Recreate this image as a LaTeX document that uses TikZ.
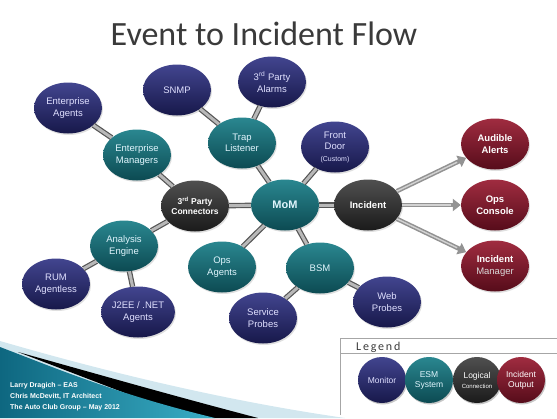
\documentclass[tikz,border=0pt]{standalone}
\usepackage{fontspec}
\setmainfont{Liberation Sans}
\newfontfamily\titlefont{Carlito}
\newfontfamily\legendfont[LetterSpace=15]{Carlito}
\usepackage{tikz}
\usetikzlibrary{shapes,arrows.meta,shadows}

\definecolor{monTop}{HTML}{42458F}
\definecolor{monBot}{HTML}{17184A}
\definecolor{esmTop}{HTML}{2A8790}
\definecolor{esmBot}{HTML}{0C4A52}
\definecolor{logTop}{HTML}{505050}
\definecolor{logBot}{HTML}{1A1A1A}
\definecolor{outTop}{HTML}{A02C40}
\definecolor{outBot}{HTML}{560C1A}
\definecolor{linkDark}{HTML}{555555}
\definecolor{linkLight}{HTML}{B8B8B8}
\definecolor{titleGray}{HTML}{3A3A3A}
\definecolor{footDark}{HTML}{0E6780}
\definecolor{footLight}{HTML}{3AAEC6}
\definecolor{footBand}{HTML}{D2E7EF}

\begin{document}
\begin{tikzpicture}[x=1pt,y=-1pt,
    bubble/.style={ellipse, minimum width=68pt, minimum height=51pt, inner sep=0pt, align=center,
        font=\fontsize{9.5}{11.5}\selectfont,
        drop shadow={opacity=0.25, shadow xshift=1pt, shadow yshift=-1.5pt}},
    monitor/.style={bubble, top color=monTop, bottom color=monBot, text=white!88!blue},
    esm/.style={bubble, top color=esmTop, bottom color=esmBot, text=white!88!cyan},
    logic/.style={bubble, top color=logTop, bottom color=logBot, text=white,
        font=\bfseries\fontsize{9.5}{11.5}\selectfont},
    output/.style={bubble, top color=outTop, bottom color=outBot, text=white,
        font=\bfseries\fontsize{9.5}{11.5}\selectfont},
    keybox/.style={bubble, minimum width=48pt, minimum height=46pt, font=\fontsize{8.5}{10}\selectfont},
    link/.style={draw=linkDark, line width=1.2pt, double=linkLight, double distance=3pt},
    flow/.style={draw=gray!85, line width=4.5pt, -{Triangle[length=8pt,width=12pt]}},
    flowhi/.style={draw=gray!35, line width=1.4pt, shorten >=10pt}
]
    \useasboundingbox (0,0) rectangle (557,418);

    % Title
    \node[anchor=base, text=titleGray, font=\titlefont\fontsize{34}{40}\selectfont] (title) at (264,45) {Event to Incident Flow};

    % Footer swoosh
    \fill[footBand] (0,341) .. controls (100,370) and (220,400) .. (345,418) -- (0,418) -- cycle;
    \fill[black] (18,352) .. controls (90,372) and (170,395) .. (258,418) -- (190,418) -- cycle;
    \shade[left color=footDark, right color=footLight] (0,347) .. controls (60,370) and (120,395) .. (215,418) -- (0,418) -- cycle;
    \node[anchor=north west, inner sep=0pt, align=left, text=white, font=\bfseries\fontsize{7}{11}\selectfont] (credits) at (10,382)
        {Larry Dragich -- EAS\\Chris McDevitt, IT Architect\\The Auto Club Group -- May 2012};

    % Monitors
    \node[monitor] (entag) at (68,108) {Enterprise\\Agents};
    \node[monitor] (snmp) at (177,90) {SNMP};
    \node[monitor] (alarms) at (272,82) {3\textsuperscript{rd} Party\\Alarms};
    \node[monitor] (front) at (335,147) {Front\\Door\\{\fontsize{7}{8}\selectfont(Custom)}};
    \node[monitor] (rum) at (56,284) {RUM\\Agentless};
    \node[monitor] (j2ee) at (138,312) {J2EE / .NET\\Agents};
    \node[monitor] (svc) at (263,318) {Service\\Probes};
    \node[monitor] (web) at (387,302) {Web\\Probes};

    % ESM systems
    \node[esm] (entmgr) at (137,155) {Enterprise\\Managers};
    \node[esm] (trap) at (242,143) {Trap\\Listener};
    \node[esm] (mom) at (285,205) {\bfseries\fontsize{11}{12}\selectfont MoM};
    \node[esm] (analysis) at (124,246) {Analysis\\Engine};
    \node[esm] (opsag) at (222,267) {Ops\\Agents};
    \node[esm] (bsm) at (320,268) {BSM};

    % Logical connections
    \node[logic, font=\bfseries\fontsize{8.5}{10.5}\selectfont] (conn) at (195,206) {3\textsuperscript{rd} Party\\Connectors};
    \node[logic] (inc) at (368,205) {Incident};

    % Incident outputs
    \node[output] (audible) at (495,144) {Audible\\Alerts};
    \node[output] (opscon) at (495,205) {Ops\\Console};
    \node[output] (incmgr) at (495,266) {Incident\\{\mdseries\color{white!85!black}Manager}};

    % Connectors
    \draw[link] (entag) -- (entmgr);
    \draw[link] (entmgr) -- (conn);
    \draw[link] (snmp) -- (trap);
    \draw[link] (alarms) -- (trap);
    \draw[link] (trap) -- (mom);
    \draw[link] (front) -- (mom);
    \draw[link] (conn) -- (mom);
    \draw[link] (mom) -- (inc);
    \draw[link] (analysis) -- (conn);
    \draw[link] (analysis) -- (rum);
    \draw[link] (analysis) -- (j2ee);
    \draw[link] (mom) -- (opsag);
    \draw[link] (mom) -- (bsm);
    \draw[link] (bsm) -- (svc);
    \draw[link] (bsm) -- (web);

    % Output arrows
    \foreach \dest in {audible,opscon,incmgr} {
        \draw[flow] (inc) -- (\dest);
        \draw[flowhi] (inc) -- (\dest);
    }

    % Legend
    \draw[gray!70, line width=1pt] (340,415) -- (340,338) -- (557,338);
    \draw[gray!70, line width=0.8pt] (340,353) -- (557,353);
    \node[anchor=base west, inner sep=0pt, text=titleGray, font=\legendfont\fontsize{12}{14}\selectfont] (legend) at (356,350) {Legend};
    \node[monitor, keybox] (keymon) at (382,380) {Monitor};
    \node[esm, keybox] (keyesm) at (429,380) {ESM\\System};
    \node[logic, keybox, font=\fontsize{8.5}{10}\selectfont] (keylog) at (477,380) {Logical\\{\fontsize{6}{8}\selectfont Connection}};
    \node[output, keybox, font=\fontsize{8.5}{10}\selectfont] (keyout) at (521,380) {Incident\\Output};
\end{tikzpicture}
\end{document}
